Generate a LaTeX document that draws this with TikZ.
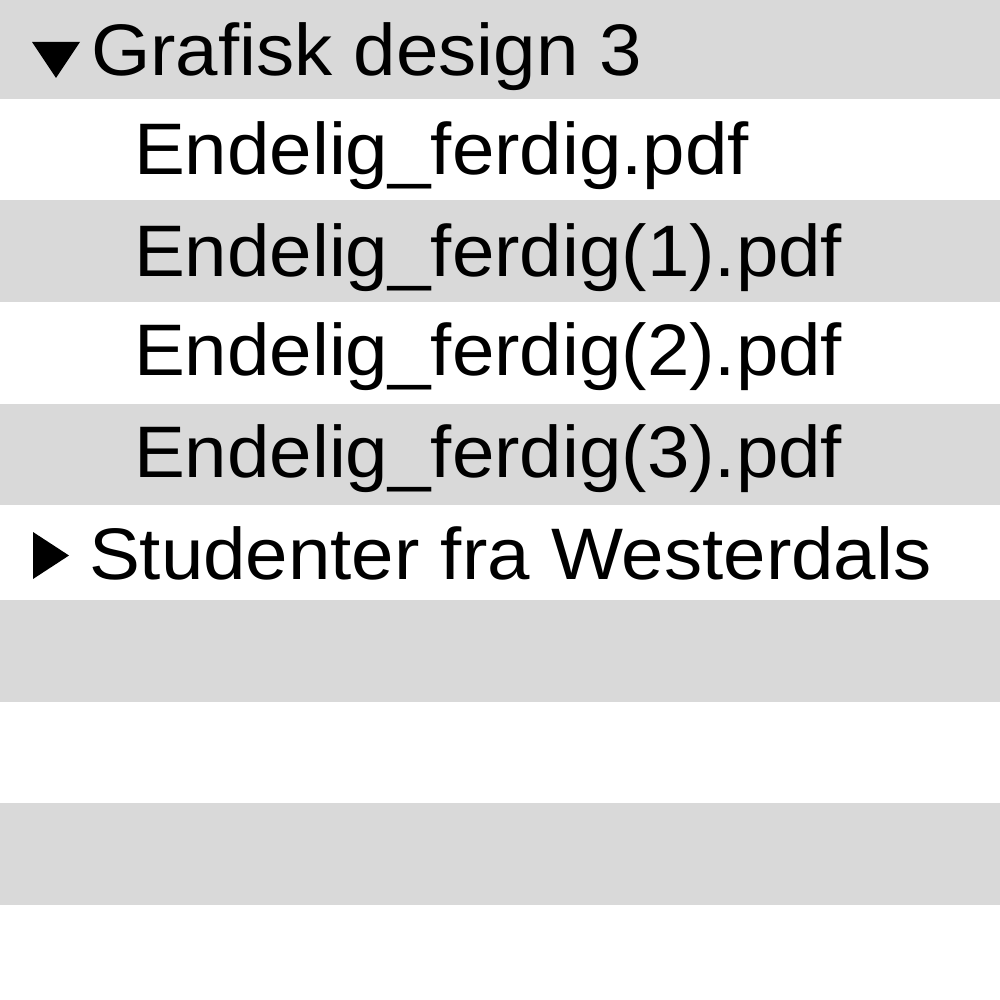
\documentclass[tikz,border=0pt]{standalone}
\usepackage{fontspec}
\setmainfont[FakeStretch=1.045]{Liberation Sans}
\definecolor{stripe}{HTML}{D9D9D9}
\tikzset{
  row/.style={fill=stripe, draw=none},
  label/.style={anchor=base west, inner sep=0pt, outer sep=0pt, font=\fontsize{73}{80}\selectfont, text=black},
  tri/.style={fill=black, draw=none}
}
\begin{document}
\begin{tikzpicture}[x=1pt, y=-1pt]
\useasboundingbox (0,0) rectangle (1000,1000);
\fill[white] (0,0) rectangle (1000,1000);
% gray stripes
\path[row] (0,0) rectangle (1000,99);
\path[row] (0,200) rectangle (1000,302);
\path[row] (0,404) rectangle (1000,505);
\path[row] (0,600) rectangle (1000,702);
\path[row] (0,803) rectangle (1000,905);
% triangles
\path[tri] (32,42) -- (80,42) -- (56,78) -- cycle;
\path[tri] (33,532) -- (69,555.5) -- (33,579) -- cycle;
% texts
\node[label] (h1) at (91,76) {Grafisk design 3};
\node[label] (f0) at (134,175) {Endelig\_ferdig.pdf};
\node[label] (f1) at (134,276) {Endelig\_ferdig(1).pdf};
\node[label] (f2) at (134,375) {Endelig\_ferdig(2).pdf};
\node[label] (f3) at (134,477) {Endelig\_ferdig(3).pdf};
\node[label] (h2) at (89,579) {Studenter fra Westerdals};
\end{tikzpicture}
\end{document}
